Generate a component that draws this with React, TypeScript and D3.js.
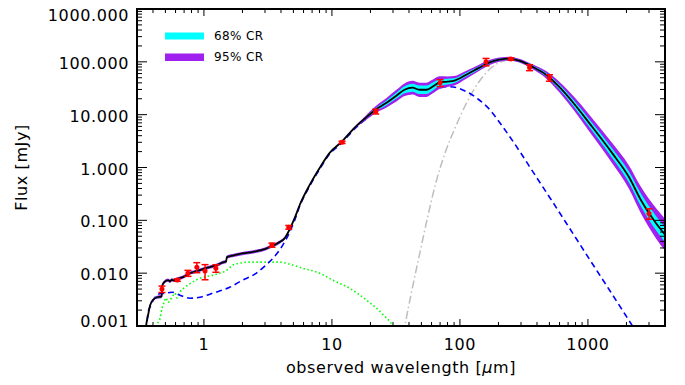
import React from "react";
import * as d3 from "d3";

// total model (black) with credible-region half widths in dex
const totalWave = [0.345, 0.353, 0.366, 0.38, 0.4, 0.43, 0.462, 0.468, 0.471, 0.488, 0.524, 0.545, 0.56, 0.58, 0.616, 0.686, 0.778, 0.881, 0.98, 1.11, 1.26, 1.43, 1.49, 1.51, 1.74, 2.09, 2.59, 2.99, 3.39, 3.91, 4.28, 4.68, 5.12, 5.6, 6.7, 8.02, 9.6, 11.9, 15.0, 18.0, 21.9, 26.7, 31.9, 36.9, 42.6, 48.3, 54.7, 61.0, 69.1, 79.8, 90.4, 112, 142, 169, 203, 243, 290, 367, 471, 595, 779, 1021, 1542, 2091, 2592, 2993, 3917, 4100];
const totalFlux = [0.0006, 0.001, 0.0016, 0.00247, 0.0031, 0.0035, 0.0036, 0.0037, 0.0057, 0.0067, 0.0074, 0.007, 0.0075, 0.0073, 0.0077, 0.0084, 0.01, 0.0109, 0.0119, 0.013, 0.0142, 0.0162, 0.0165, 0.0201, 0.022, 0.024, 0.0261, 0.0285, 0.0325, 0.0388, 0.0461, 0.068, 0.111, 0.195, 0.468, 0.98, 1.89, 3.06, 5.64, 8.36, 12.4, 16.8, 22.9, 29.6, 32.4, 29.6, 29.6, 33.8, 40.3, 42.1, 44.0, 57.1, 77.6, 96.6, 110, 115, 105, 81, 57.1, 33.8, 16.1, 7.0, 1.89, 0.66, 0.243, 0.138, 0.057, 0.05];
const ci68 = [0.012, 0.012, 0.012, 0.012, 0.012, 0.012, 0.012, 0.012, 0.012, 0.012, 0.012, 0.012, 0.012, 0.012, 0.012, 0.012, 0.012, 0.012, 0.012, 0.012, 0.012, 0.012, 0.012, 0.012, 0.012, 0.012, 0.012, 0.012, 0.012, 0.012, 0.01, 0.008, 0.006, 0.005, 0.005, 0.005, 0.005, 0.005, 0.008, 0.015, 0.03, 0.045, 0.055, 0.065, 0.075, 0.08, 0.08, 0.075, 0.065, 0.055, 0.045, 0.035, 0.028, 0.022, 0.018, 0.015, 0.015, 0.02, 0.03, 0.045, 0.06, 0.075, 0.09, 0.105, 0.12, 0.13, 0.14, 0.14];
const ci95 = [0.03, 0.03, 0.03, 0.03, 0.03, 0.03, 0.03, 0.03, 0.03, 0.03, 0.03, 0.03, 0.03, 0.03, 0.03, 0.03, 0.03, 0.03, 0.03, 0.03, 0.03, 0.03, 0.03, 0.03, 0.03, 0.03, 0.03, 0.03, 0.03, 0.03, 0.025, 0.02, 0.015, 0.012, 0.012, 0.012, 0.012, 0.012, 0.02, 0.04, 0.065, 0.09, 0.11, 0.12, 0.13, 0.135, 0.135, 0.13, 0.12, 0.1, 0.09, 0.075, 0.06, 0.05, 0.04, 0.035, 0.035, 0.045, 0.07, 0.1, 0.13, 0.16, 0.19, 0.22, 0.25, 0.27, 0.3, 0.3];

// blue dashed component
const blueWave = [0.355, 0.366, 0.385, 0.415, 0.438, 0.497, 0.563, 0.65, 0.778, 0.93, 1.18, 1.59, 2.01, 2.5, 2.99, 3.58, 4.13, 4.68, 5.12, 5.6, 6.7, 8.02, 9.6, 11.9, 15.0, 18.0, 21.9, 26.7, 31.9, 36.9, 42.6, 48.3, 55, 61, 69, 78, 88.3, 109.6, 138.4, 171.8, 205.6, 246, 295, 386, 506, 725, 1038, 1489, 2056, 2335];
const blueFlux = [0.0008, 0.0018, 0.00247, 0.0035, 0.004, 0.00417, 0.00436, 0.00383, 0.00336, 0.0035, 0.0042, 0.0054, 0.0074, 0.0096, 0.0136, 0.021, 0.034, 0.06, 0.101, 0.185, 0.445, 0.93, 1.8, 2.9, 5.35, 7.9, 11.6, 15.6, 21, 26, 28, 27, 27.5, 29.5, 32, 33.8, 33.4, 28.1, 19.8, 12.3, 6.96, 3.78, 1.97, 0.721, 0.265, 0.0686, 0.0177, 0.0046, 0.00136, 0.00084];

// green dotted component
const greenWave = [0.425, 0.43, 0.454, 0.471, 0.488, 0.506, 0.524, 0.563, 0.594, 0.616, 0.65, 0.711, 0.806, 0.93, 1.18, 1.51, 1.68, 1.91, 2.28, 2.99, 3.91, 4.68, 5.91, 8.02, 10.1, 13.7, 18.6, 24.8, 29.7, 31.5];
const greenFlux = [0.0008, 0.001, 0.0014, 0.0022, 0.0028, 0.0034, 0.0028, 0.0035, 0.0042, 0.0034, 0.0044, 0.0054, 0.0067, 0.008, 0.0092, 0.0114, 0.0142, 0.0155, 0.0162, 0.0162, 0.0162, 0.0148, 0.0124, 0.01, 0.0074, 0.0052, 0.0031, 0.0017, 0.00103, 0.0008];

// grey dash-dot component
const grayWave = [36.3, 37.2, 42.2, 48.8, 56.4, 65.1, 76.5, 91.6, 109.6, 131, 157, 188, 225, 243, 290, 367, 471, 595, 779, 1021, 1542, 2091, 2993, 3917, 4100];
const grayFlux = [0.0007, 0.001, 0.0048, 0.0252, 0.126, 0.532, 1.88, 5.6, 14.6, 32, 58.9, 87.2, 106, 110, 102, 79, 56, 33.4, 16, 6.95, 1.88, 0.66, 0.137, 0.057, 0.05];

// observed photometry
const obsWave = [0.47, 0.62, 0.75, 0.88, 1.02, 1.24, 3.4, 4.6, 12, 22, 70, 160, 250, 350, 500, 3000];
const obsFlux = [0.005, 0.0074, 0.01, 0.013, 0.011, 0.0124, 0.034, 0.074, 3.0, 11.5, 40, 100, 113, 78, 50, 0.135];
const obsErr = [0.0007, 0.0004, 0.0013, 0.0028, 0.0035, 0.002, 0.003, 0.006, 0.15, 1.2, 6, 16, 6, 10, 7, 0.03];

const xMajor = [1, 10, 100, 1000];
const xMajorLabels = ["1", "10", "100", "1000"];
const yMajor = [0.001, 0.01, 0.1, 1, 10, 100, 1000];
const yMajorLabels = ["0.001", "0.010", "0.100", "1.000", "10.000", "100.000", "1000.000"];
const legendLabels = ["68% CR", "95% CR"];

const W = 685;
const H = 385;
const L = 137, R = 665, T = 9, B = 326;
const font = "'DejaVu Sans', sans-serif";

export default function App() {
  const x = d3.scaleLog().domain([0.3, 4000]).range([L, R]);
  const y = d3.scaleLog().domain([0.001, 1000]).range([B, T]);

  const line = d3
    .line<[number, number]>()
    .x((d) => x(d[0]))
    .y((d) => y(d[1]))
    .curve(d3.curveMonotoneX);

  const band = (w: number[]) =>
    d3
      .area<number>()
      .x((i) => x(totalWave[i]))
      .y0((i) => y(totalFlux[i] * Math.pow(10, -w[i])))
      .y1((i) => y(totalFlux[i] * Math.pow(10, w[i])))
      .curve(d3.curveMonotoneX)(totalFlux.map((_, i) => i));

  const zip = (a: number[], b: number[]) => a.map((v, i) => [v, b[i]] as [number, number]);

  const xMinor = x.ticks().filter((t) => !xMajor.some((m) => Math.abs(m / t - 1) < 1e-6));
  const yMinor = y.ticks().filter((t) => !yMajor.some((m) => Math.abs(m / t - 1) < 1e-6));

  return (
    <div style={{ position: "absolute", left: 0, top: 0 }}>
      <svg width={W} height={H} style={{ display: "block", background: "#fff" }} fontFamily={font}>
        <defs>
          <clipPath id="plot">
            <rect x={L} y={T} width={R - L} height={B - T} />
          </clipPath>
        </defs>
        <g clipPath="url(#plot)" fill="none">
          <path d={line(zip(greenWave, greenFlux)) || ""} stroke="#00ff00" strokeWidth={1.6} strokeDasharray="1.5,2.5" />
          <path d={line(zip(grayWave, grayFlux)) || ""} stroke="#bebebe" strokeWidth={1.5} strokeDasharray="8,3,1.5,3" />
          <path d={line(zip(blueWave, blueFlux)) || ""} stroke="#0000ff" strokeWidth={1.6} strokeDasharray="6,4" />
          <path d={band(ci95) || ""} fill="#a020f0" stroke="none" />
          <path d={band(ci68) || ""} fill="#00ffff" stroke="none" />
          <path d={line(zip(totalWave, totalFlux)) || ""} stroke="#000" strokeWidth={1.8} />
        </g>
        <g stroke="#ff0000" fill="#ff0000" strokeWidth={1.5}>
          {obsWave.map((w, i) => {
            const cx = x(w);
            const y0 = y(obsFlux[i] - obsErr[i]);
            const y1 = y(obsFlux[i] + obsErr[i]);
            return (
              <g key={i}>
                <line x1={cx} x2={cx} y1={y0} y2={y1} />
                <line x1={cx - 3.5} x2={cx + 3.5} y1={y0} y2={y0} />
                <line x1={cx - 3.5} x2={cx + 3.5} y1={y1} y2={y1} />
                <circle cx={cx} cy={y(obsFlux[i])} r={2.5} stroke="none" />
              </g>
            );
          })}
        </g>
        <g stroke="#000" strokeWidth={1}>
          {xMajor.map((t) => (
            <g key={"xM" + t}>
              <line x1={x(t)} x2={x(t)} y1={B} y2={B - 7} />
              <line x1={x(t)} x2={x(t)} y1={T} y2={T + 7} />
            </g>
          ))}
          {xMinor.map((t) => (
            <g key={"xm" + t}>
              <line x1={x(t)} x2={x(t)} y1={B} y2={B - 4} />
              <line x1={x(t)} x2={x(t)} y1={T} y2={T + 4} />
            </g>
          ))}
          {yMajor.map((t) => (
            <g key={"yM" + t}>
              <line x1={L} x2={L + 10} y1={y(t)} y2={y(t)} />
              <line x1={R} x2={R - 10} y1={y(t)} y2={y(t)} />
            </g>
          ))}
          {yMinor.map((t) => (
            <g key={"ym" + t}>
              <line x1={L} x2={L + 5} y1={y(t)} y2={y(t)} />
              <line x1={R} x2={R - 5} y1={y(t)} y2={y(t)} />
            </g>
          ))}
        </g>
        <rect x={L} y={T} width={R - L} height={B - T} fill="none" stroke="#000" strokeWidth={2} />
        <g fontSize={16} letterSpacing={0.6} fill="#000">
          {xMajor.map((t, i) => (
            <text key={"xl" + t} x={x(t)} y={350} textAnchor="middle">
              {xMajorLabels[i]}
            </text>
          ))}
          {yMajor.map((t, i) => (
            <text
              key={"yl" + t}
              x={129}
              y={Math.min(Math.max(y(t) + 1.5, 15), 321.5)}
              textAnchor="end"
              dominantBaseline="central"
            >
              {yMajorLabels[i]}
            </text>
          ))}
          <text x={(L + R) / 2} y={373} textAnchor="middle">
            observed wavelength [<tspan fontStyle="italic">μ</tspan>m]
          </text>
          <text transform={`translate(27,${(T + B) / 2}) rotate(-90)`} textAnchor="middle">
            Flux [mJy]
          </text>
        </g>
        <g fontSize={12} letterSpacing={0.4}>
          <rect x={165} y={32.5} width={39} height={7} fill="#00ffff" />
          <rect x={165} y={53.5} width={39} height={7.5} fill="#a020f0" />
          <text x={214} y={36} dominantBaseline="central">{legendLabels[0]}</text>
          <text x={214} y={57} dominantBaseline="central">{legendLabels[1]}</text>
        </g>
      </svg>
    </div>
  );
}
